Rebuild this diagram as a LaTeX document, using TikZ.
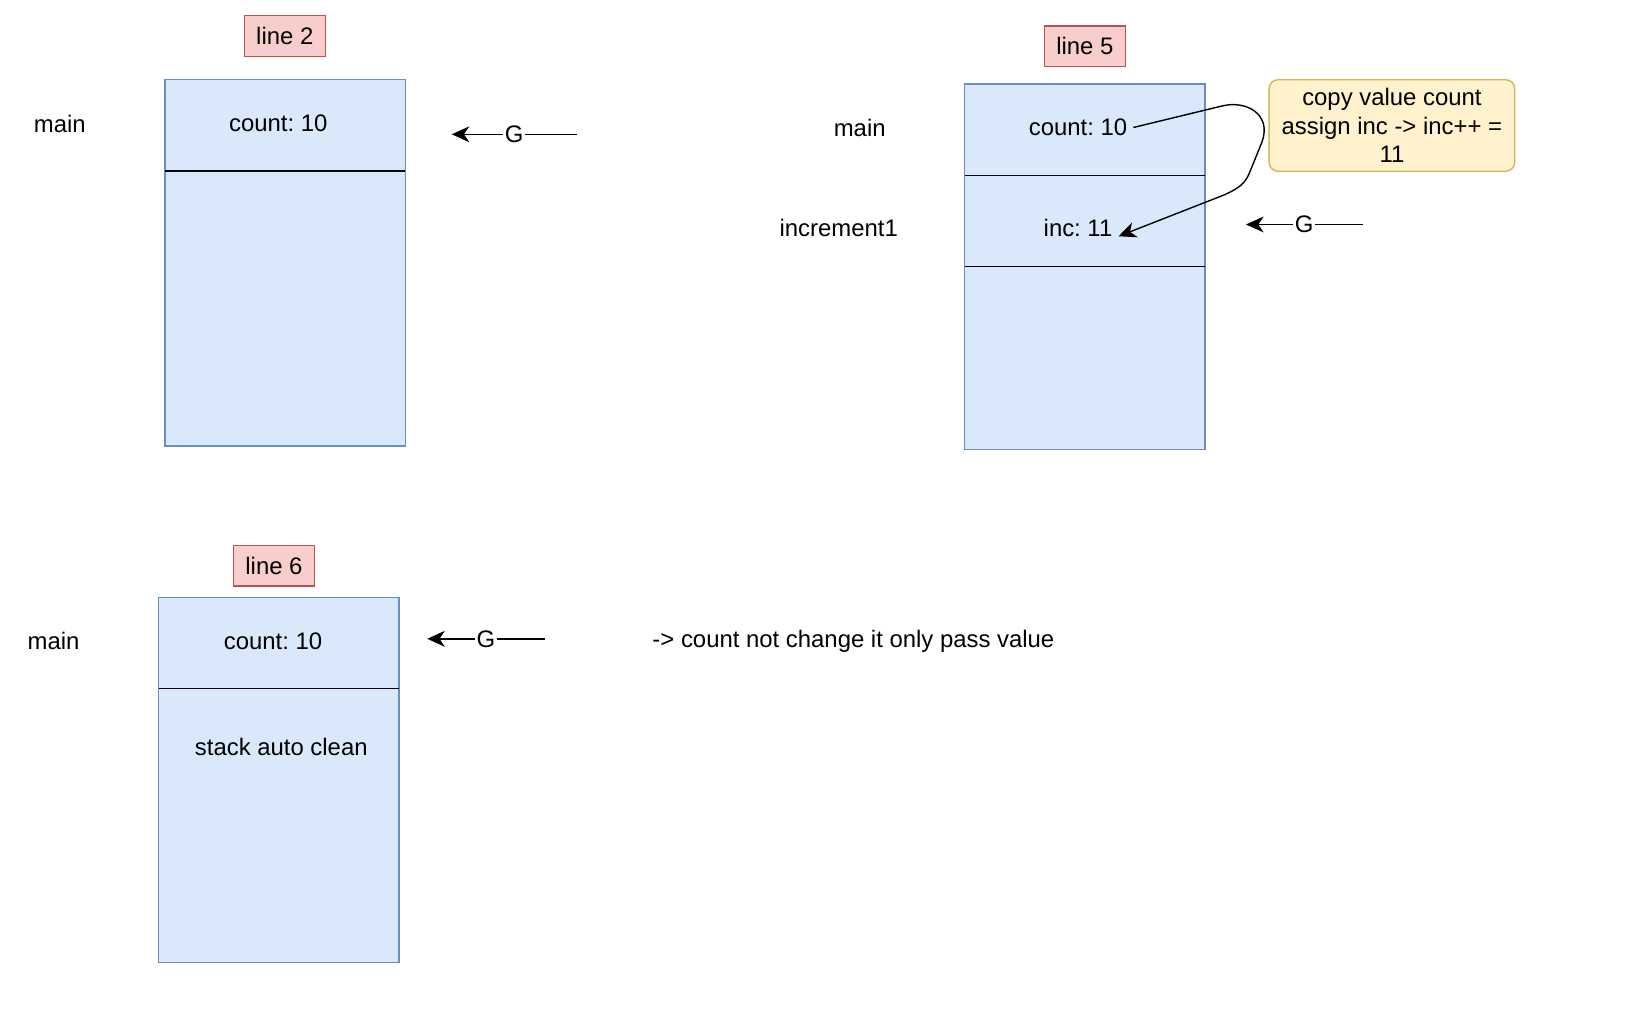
\documentclass[tikz,border=0pt]{standalone}
\usepackage{fontspec}
\setmainfont{Liberation Sans}
\usepackage{tikz}
\usetikzlibrary{arrows.meta,positioning}

\definecolor{stackfill}{HTML}{DAE8FC}
\definecolor{stackdraw}{HTML}{6C8EBF}
\definecolor{linefill}{HTML}{F8CECC}
\definecolor{linedraw}{HTML}{B85450}
\definecolor{notefill}{HTML}{FFF2CC}
\definecolor{notedraw}{HTML}{D6B656}

\frenchspacing

\begin{document}
\begin{tikzpicture}[x=0.02cm, y=-0.02cm,
  every node/.style={font=\fontsize{13.6pt}{16.1pt}\selectfont},
  stackbox/.style={fill=stackfill, draw=stackdraw, line width=0.8pt},
  divider/.style={draw=black, line width=0.7pt},
  linetag/.style={fill=linefill, draw=linedraw, line width=0.8pt,
    minimum width=1.62cm, minimum height=0.81cm, inner sep=0pt},
  notebox/.style={fill=notefill, draw=notedraw, line width=0.8pt, rounded corners=5pt,
    minimum width=4.91cm, minimum height=1.83cm, align=center, inner sep=1pt},
  pointer/.style={-{Stealth[length=10pt, width=9pt, inset=3pt]}, line width=0.8pt},
  gtag/.style={fill=white, inner sep=1pt}
]
  \useasboundingbox (0,0) rectangle (1646,1026);

  % line 2 - stack with main only
  \node[linetag] (tag1) at (284.8,36) {line 2};
  \draw[stackbox] (164.8,79.8) rectangle (405.2,446.1);
  \draw[divider] (165.2,171.1) -- (404.8,171.1);
  \node (main1) at (59.8,123.5) {main};
  \node (cnt1) at (278.3,123.5) {count: 10};
  \coordinate (gend1) at (576.7,134.3);
  \coordinate (gtip1) at (451.7,134.3);
  \draw[pointer] (gend1) -- (gtip1) node[midway, gtag] (g1) {G};

  % line 5 - increment1 pushed on top of main
  \node[linetag] (tag2) at (1084.9,46.2) {line 5};
  \draw[stackbox] (964.7,84) rectangle (1205.1,449.3);
  \draw[divider] (965.1,175.3) -- (1204.7,175.3);
  \draw[divider] (965.1,266.6) -- (1204.7,266.6);
  \node (main2) at (859.7,127.5) {main};
  \node (fn2) at (838.7,227.5) {increment1};
  \node (cnt2) at (1078,127.5) {count: 10};
  \node (inc2) at (1078,227.5) {inc: 11};
  \node[notebox] (note2) at (1391.9,125.5) {copy value count\\assign inc -> inc++ =\\11};
  \coordinate (gend2) at (1362.5,224.5);
  \coordinate (gtip2) at (1246,224.5);
  \draw[pointer] (gend2) -- (gtip2) node[midway, gtag] (g2) {G};

  % copy of the value into inc
  \draw[pointer] (cnt2.east) -- (1222,106)
    .. controls (1246,100) and (1272,114) .. (1262,142)
    -- (1249,174)
    .. controls (1244,185) and (1237,189) .. (1224,195)
    -- ([yshift=-5pt]inc2.east);

  % line 6 - back in main
  \node[linetag] (tag3) at (274,565.8) {line 6};
  \draw[stackbox] (158.5,597.3) rectangle (398.9,962.6);
  \draw[divider] (158.9,688.6) -- (398.5,688.6);
  \node (main3) at (53.5,641) {main};
  \node (cnt3) at (273,641) {count: 10};
  \node (clean3) at (281.3,747) {stack auto clean};
  \coordinate (gend3) at (544.8,638.8);
  \coordinate (gtip3) at (427.2,638.8);
  \draw[pointer] (gend3) -- (gtip3) node[midway, gtag] (g3) {G};
  \node (result) at (853.4,641) {-> count not change it only pass value};

\end{tikzpicture}
\end{document}
